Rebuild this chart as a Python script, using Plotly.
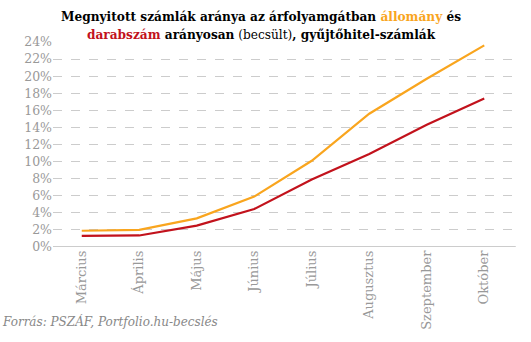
import plotly.graph_objects as go

months = ["Március", "Április", "Május", "Június", "Július", "Augusztus", "Szeptember", "Október"]
allomany = [1.9, 2.0, 3.35, 5.9, 10.1, 15.6, 19.7, 23.6]
darabszam = [1.3, 1.35, 2.5, 4.45, 7.9, 10.9, 14.3, 17.4]
yticks = list(range(0, 25, 2))
ytick_labels = [f"{v}%" for v in yticks]

ORANGE = "#F9A51E"
RED = "#C2121C"
GRAY = "#999999"
FONT = "DejaVu Serif"
TFONT = "DejaVu Serif Condensed, DejaVu Serif"

fig = go.Figure()
fig.add_trace(go.Scatter(x=months, y=allomany, mode="lines", line=dict(color=ORANGE, width=2.2),
                         name="állomány", cliponaxis=False))
fig.add_trace(go.Scatter(x=months, y=darabszam, mode="lines", line=dict(color=RED, width=2.2),
                         name="darabszám", cliponaxis=False))

title = ("<b>Megnyitott számlák aránya az árfolyamgátban <span style='color:%s'>állomány</span> és</b><br>"
         "<b><span style='color:%s'>darabszám</span> arányosan</b> (becsült)<b>, gyűjtőhitel-számlák</b>") % (ORANGE, RED)

fig.update_layout(
    width=531, height=342,
    margin=dict(l=53, r=18, t=42, b=92),
    paper_bgcolor="white", plot_bgcolor="white",
    showlegend=False,
    font=dict(family=FONT, color=GRAY, size=12),
    xaxis=dict(type="category", range=[-0.5, 7.5], tickangle=-90, showgrid=False,
               showline=False, zeroline=False, ticks="", tickfont=dict(size=13, color=GRAY)),
    yaxis=dict(range=[0, 24], tickvals=yticks, ticktext=ytick_labels, showgrid=True,
               gridcolor="#CCCCCC", griddash="dash", gridwidth=1, zeroline=False,
               showline=False, ticks="", tickfont=dict(size=12.5, color=GRAY)),
    annotations=[
        dict(text=title, xref="paper", yref="paper", x=(261 - 53) / 460, y=0.99,
             xanchor="center", yanchor="bottom", showarrow=False, align="center",
             font=dict(family=TFONT, size=13.5, color="black")),
        dict(text="<i>Forrás: PSZÁF, Portfolio.hu-becslés</i>", xref="paper", yref="paper",
             x=-53 / 460, y=-(326 - 250) / 208, xanchor="left", yanchor="middle", showarrow=False,
             font=dict(family=FONT, size=12, color="#888888"))],
    shapes=[dict(type="line", xref="paper", yref="y", x0=0, x1=1.006, y0=0, y1=0,
                 line=dict(color="#CCCCCC", width=2))],
)

fig.write_html("out.html")
